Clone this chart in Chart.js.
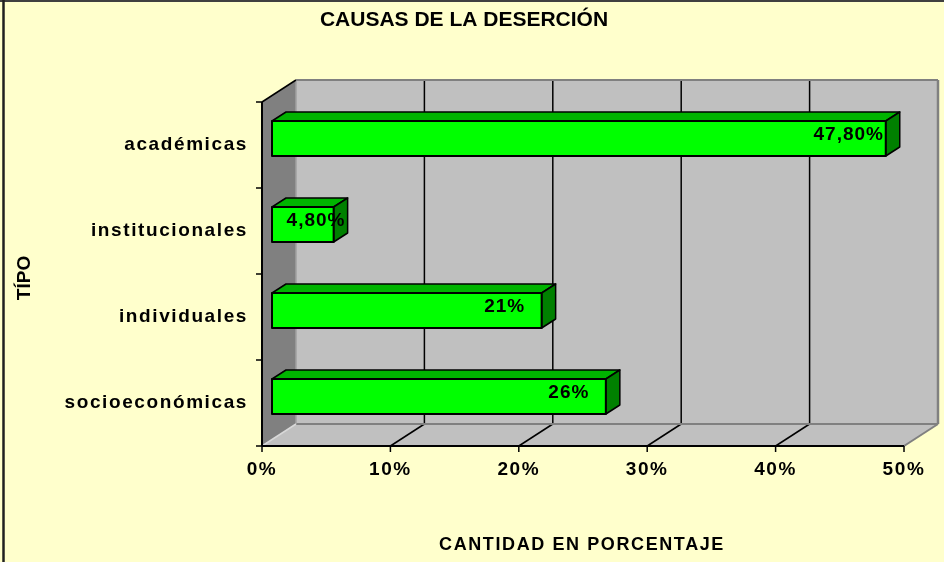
<!DOCTYPE html>
<html lang="es">
<head>
<meta charset="UTF-8">
<title>Causas de la deserción</title>
<script src="https://cdn.jsdelivr.net/npm/chart.js"></script>
<style>
    html, body { margin: 0; padding: 0; background: #FFFFCC; }
    .wrap { width: 944px; height: 562px; }
</style>
</head>
<body>
<div class="wrap"><canvas id="chart"></canvas></div>
<script>
// datos
const categories = ['académicas', 'institucionales', 'individuales', 'socioeconómicas'];
const percentages = [47.8, 4.8, 21, 26];
const xTicks = [0, 10, 20, 30, 40, 50];

const FONT = '"Liberation Sans", Arial, sans-serif';
const DEPTH = { dx: 34, dy: -22 };     // profundidad de las paredes
const BAR_FRONT = { dx: 10, dy: -6.5 }; // posición de la cara frontal de la barra
const BAR_DEPTH = { dx: 14, dy: -9 };   // grosor de la barra

function fmt(v) {
    return Number.isInteger(v) ? v + '%' : v.toFixed(2).replace('.', ',') + '%';
}

function poly(ctx, pts, fill, stroke, lw) {
    ctx.beginPath();
    pts.forEach((p, i) => i ? ctx.lineTo(p[0], p[1]) : ctx.moveTo(p[0], p[1]));
    ctx.closePath();
    if (fill) { ctx.fillStyle = fill; ctx.fill(); }
    if (stroke) { ctx.strokeStyle = stroke; ctx.lineWidth = lw || 1; ctx.stroke(); }
}

function line(ctx, x1, y1, x2, y2, color, lw) {
    ctx.beginPath();
    ctx.moveTo(x1, y1);
    ctx.lineTo(x2, y2);
    ctx.strokeStyle = color;
    ctx.lineWidth = lw;
    ctx.stroke();
}

const fondo = {
    id: 'fondo',
    beforeDraw(chart) {
        const ctx = chart.ctx;
        ctx.save();
        ctx.fillStyle = '#FFFFCC';
        ctx.fillRect(0, 0, chart.width, chart.height);
        ctx.restore();
        ctx.letterSpacing = '1.6px';
    }
};

// paredes, suelo y rejilla
const caja3d = {
    id: 'caja3d',
    beforeDatasetsDraw(chart) {
        const { ctx, scales: { x, y } } = chart;
        const { dx, dy } = DEPTH;
        const left = x.getPixelForValue(xTicks[0]);
        const right = x.getPixelForValue(xTicks[xTicks.length - 1]);
        const top = y.getPixelForValue(-0.5);
        const bottom = y.getPixelForValue(categories.length - 0.5);
        ctx.save();
        // pared del fondo
        ctx.fillStyle = '#C0C0C0';
        ctx.fillRect(left + dx, top + dy, right - left, bottom - top);
        // pared lateral
        poly(ctx, [[left, top], [left + dx, top + dy], [left + dx, bottom + dy], [left, bottom]], '#808080');
        // suelo
        poly(ctx, [[left, bottom], [right, bottom], [right + dx, bottom + dy], [left + dx, bottom + dy]], '#C0C0C0');

        // rejilla
        xTicks.slice(1, -1).forEach(v => {
            const px = x.getPixelForValue(v);
            line(ctx, px, bottom, px + dx, bottom + dy, '#000', 1.5);
            line(ctx, px + dx, bottom + dy, px + dx, top + dy, '#000', 1.5);
        });

        // bordes grises
        line(ctx, left + dx, top + dy, right + dx, top + dy, '#808080', 2);
        line(ctx, right + dx, top + dy, right + dx, bottom + dy, '#808080', 2.5);
        line(ctx, left + dx, bottom + dy, right + dx, bottom + dy, '#808080', 2);
        line(ctx, right, bottom, right + dx, bottom + dy, '#808080', 2);
        line(ctx, left + dx, top + dy, left + dx, bottom + dy, '#A0A0A0', 1.5);
        line(ctx, left, bottom, left + dx, bottom + dy, '#D8D8D8', 1.5);

        // ejes
        line(ctx, left, top, left + dx, top + dy, '#000', 1.5);
        line(ctx, left, top, left, bottom, '#000', 2);
        line(ctx, left, bottom, right, bottom, '#000', 2);
        for (let i = 0; i <= categories.length; i++) {
            const py = y.getPixelForValue(i - 0.5);
            line(ctx, left - 6, py, left, py, '#000', 1.5);
        }
        xTicks.forEach(v => {
            const px = x.getPixelForValue(v);
            line(ctx, px, bottom, px, bottom + 6, '#000', 1.5);
        });
        ctx.restore();
    },
    afterDatasetsDraw(chart) {
        const ctx = chart.ctx;
        const meta = chart.getDatasetMeta(0);
        ctx.save();
        meta.data.forEach((el, i) => {
            const p = el.getProps(['x', 'y', 'base', 'height'], true);
            const x0 = p.base + BAR_FRONT.dx, x1 = p.x + BAR_FRONT.dx;
            const y0 = p.y - p.height / 2 + BAR_FRONT.dy, y1 = p.y + p.height / 2 + BAR_FRONT.dy;
            const { dx, dy } = BAR_DEPTH;
            ctx.lineJoin = 'round';
            poly(ctx, [[x0, y0], [x1, y0], [x1 + dx, y0 + dy], [x0 + dx, y0 + dy]], '#00B400', '#000', 1.5);
            poly(ctx, [[x1, y0], [x1 + dx, y0 + dy], [x1 + dx, y1 + dy], [x1, y1]], '#008000', '#000', 1.5);
            poly(ctx, [[x0, y0], [x1, y0], [x1, y1], [x0, y1]], '#00FF00', '#000', 2);

            // etiqueta de valor
            const boxRight = x1 + 7;
            const boxLeft = Math.max(boxRight - 88, x0);
            ctx.font = 'bold 19px ' + FONT;
            ctx.letterSpacing = '1px';
            ctx.fillStyle = '#000';
            ctx.textAlign = 'center';
            ctx.textBaseline = 'middle';
            ctx.fillText(fmt(percentages[i]), boxLeft + 44, (y0 + y1) / 2 - 4);
        });
        ctx.restore();
    }
};

// títulos
const titulos = {
    id: 'titulos',
    afterDraw(chart) {
        const ctx = chart.ctx;
        ctx.save();
        ctx.fillStyle = '#000';
        ctx.textAlign = 'center';
        ctx.textBaseline = 'middle';
        ctx.letterSpacing = '0px';
        ctx.font = 'bold 21px ' + FONT;
        ctx.fillText('CAUSAS DE LA DESERCIÓN', 464, 20);

        ctx.letterSpacing = '1.6px';
        ctx.font = 'bold 18px ' + FONT;
        ctx.fillText('CANTIDAD EN PORCENTAJE', 582, 545);

        ctx.letterSpacing = '0px';
        ctx.font = 'bold 19px ' + FONT;
        ctx.translate(25, 278);
        ctx.rotate(-Math.PI / 2);
        ctx.fillText('TÍPO', 0, 0);
        ctx.restore();

        // marco
        ctx.save();
        line(ctx, 0, 1, chart.width, 1, '#404040', 2);
        line(ctx, 3.5, 0, 3.5, chart.height, '#202020', 2.5);
        ctx.restore();
    }
};

new Chart(document.getElementById('chart'), {
    type: 'bar',
    data: {
        labels: categories,
        datasets: [{
            data: percentages,
            backgroundColor: 'transparent',
            borderWidth: 0,
            barThickness: 35
        }]
    },
    options: {
        indexAxis: 'y',
        responsive: true,
        maintainAspectRatio: false,
        animation: false,
        layout: { padding: { left: 0, right: 40, top: 102, bottom: 0 } },
        plugins: {
            legend: { display: false },
            tooltip: { enabled: false }
        },
        scales: {
            x: {
                min: xTicks[0],
                max: xTicks[xTicks.length - 1],
                afterBuildTicks: s => { s.ticks = xTicks.map(v => ({ value: v })); },
                afterFit: s => { s.height = 562 - 446 - 0; },
                grid: { display: false, drawTicks: false, tickLength: 0 },
                border: { display: false },
                ticks: {
                    callback: v => v + '%',
                    color: '#000',
                    padding: 12,
                    maxRotation: 0,
                    font: { family: FONT, size: 19, weight: 'bold' }
                }
            },
            y: {
                afterFit: s => { s.width = 262; },
                grid: { display: false, drawTicks: false, tickLength: 0 },
                border: { display: false },
                ticks: {
                    color: '#000',
                    padding: 14,
                    font: { family: FONT, size: 19, weight: 'bold' }
                }
            }
        }
    },
    plugins: [fondo, caja3d, titulos]
});
</script>
</body>
</html>
